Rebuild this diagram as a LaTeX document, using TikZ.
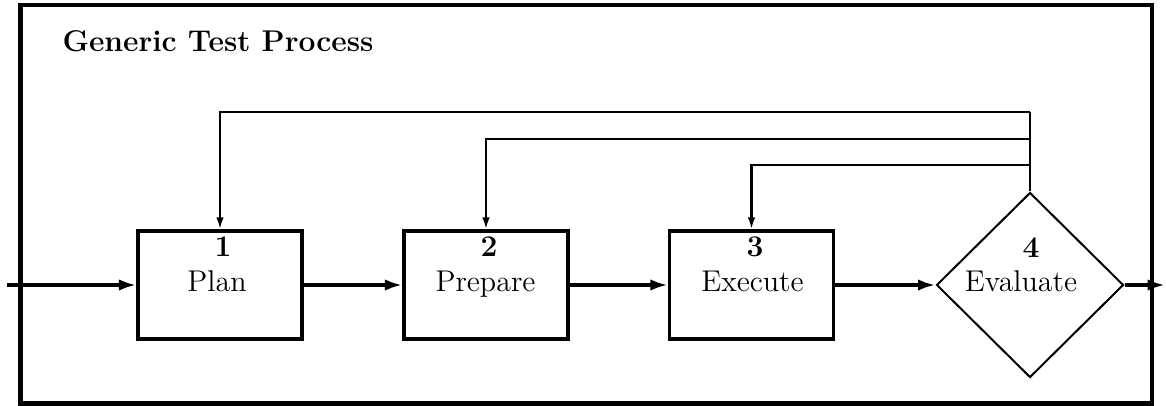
\documentclass[tikz,border=0pt]{standalone}
\usetikzlibrary{shapes.geometric,arrows.meta}
\begin{document}
\begin{tikzpicture}[x=0.4pt,y=-0.4pt,
  frame/.style={line width=1.7pt},
  stepbox/.style={draw, line width=1.3pt, minimum width=65.6pt, minimum height=43.2pt, inner sep=0pt},
  decision/.style={draw, diamond, line width=0.8pt, minimum width=74.8pt, minimum height=74pt, inner sep=0pt, aspect=1},
  num/.style={font=\fontsize{12}{14}\selectfont\bfseries, anchor=base, inner sep=0pt},
  lbl/.style={font=\fontsize{12}{14}\selectfont, anchor=base, inner sep=0pt},
  ttl/.style={font=\fontsize{12}{14}\selectfont\bfseries, anchor=base west, inner sep=0pt},
  flow/.style={line width=1.5pt, -{Latex[length=7pt,width=4.6pt]}},
  fb/.style={line width=0.9pt},
  fbarrow/.style={fb, -{Latex[length=4.8pt,width=3pt]}}]
\useasboundingbox (0,0) rectangle (1166,406);
\draw[frame] (20.5,5.3) rectangle (1152,403.5);
\node[ttl] (title) at (62,52) {Generic Test Process};

\node[stepbox] (p1) at (220,285) {};
\node[stepbox] (p2) at (486,285) {};
\node[stepbox] (p3) at (751.5,285) {};
\node[decision] (d) at (1030,285) {};

\node[num] (n1) at (223,256) {1};
\node[lbl] (l1) at (217,291) {Plan};
\node[num] (n2) at (489,256) {2};
\node[lbl] (l2) at (485.5,291) {Prepare};
\node[num] (n3) at (755,256) {3};
\node[lbl] (l3) at (752.5,291) {Execute};
\node[num] (n4) at (1031,257) {4};
\node[lbl] (l4) at (1021,291) {Evaluate};

\coordinate (in) at (7,285);
\coordinate (out) at (1165,285);
\draw[flow] (in) -- (p1.west);
\draw[flow] (p1.east) -- (p2.west);
\draw[flow] (p2.east) -- (p3.west);
\draw[flow] (p3.east) -- (d.west);
\draw[flow] (d.east) -- (out);

\coordinate (c1) at (1030,112);
\coordinate (c2) at (1030,139);
\coordinate (c3) at (1030,165);
\draw[fb] (d.north) -- (c1);
\draw[fbarrow] (c1) -| (p1.north);
\draw[fbarrow] (c2) -| (p2.north);
\draw[fbarrow] (c3) -| (p3.north);
\end{tikzpicture}
\end{document}
